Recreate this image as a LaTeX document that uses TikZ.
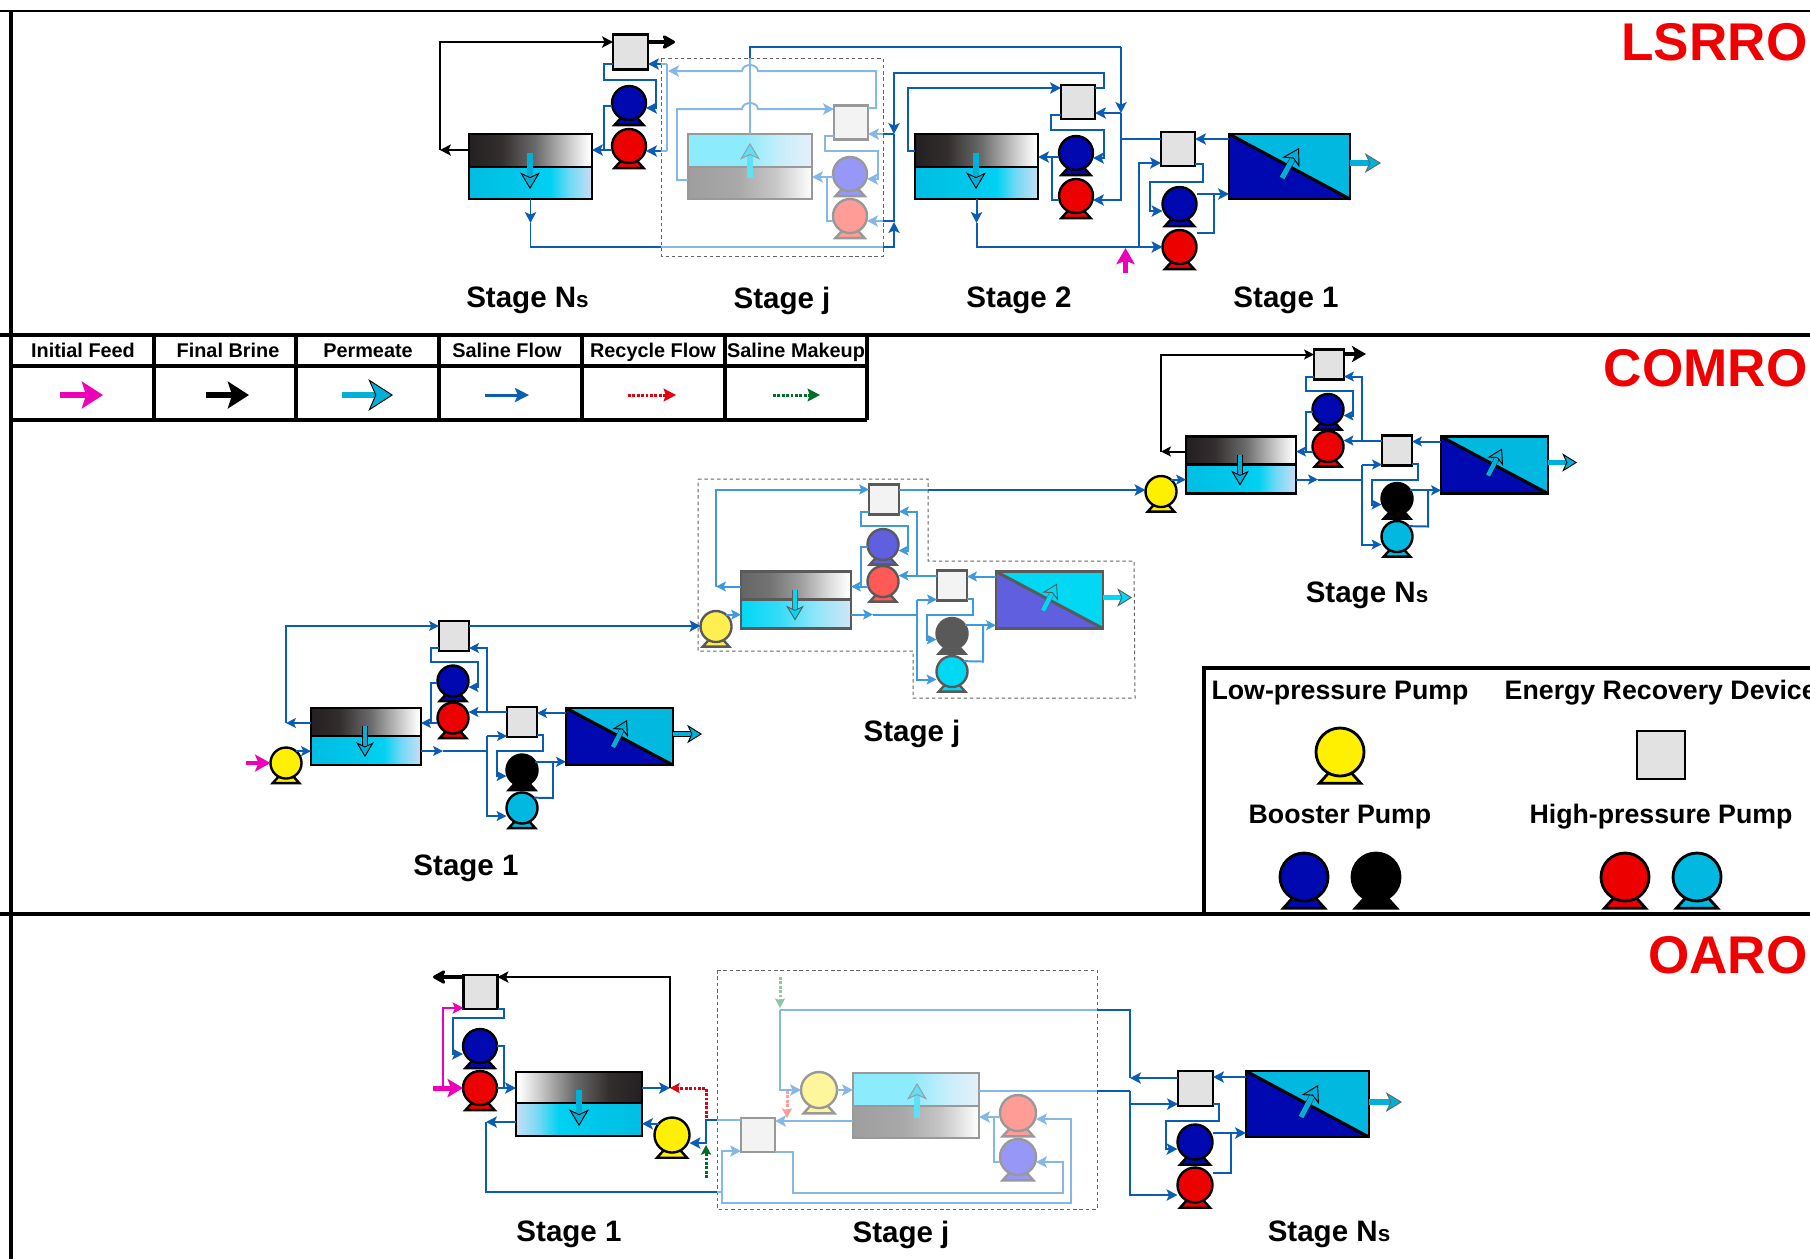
\documentclass[tikz,border=0pt]{standalone}
\usepackage{fontspec}
\setmainfont{Liberation Sans}
\usetikzlibrary{arrows.meta,calc}
% shadings: visible part of the bar lies between 25bp and 75bp
\pgfdeclarehorizontalshading{shTopK}{100bp}{rgb(0bp)=(.14,.12,.125); rgb(25bp)=(.14,.12,.125); rgb(38bp)=(.2,.18,.18); rgb(52bp)=(.42,.42,.42); rgb(66bp)=(.8,.8,.8); rgb(74bp)=(1,1,1); rgb(100bp)=(1,1,1)}
\pgfdeclarehorizontalshading{shTopKr}{100bp}{rgb(0bp)=(1,1,1); rgb(26bp)=(1,1,1); rgb(34bp)=(.8,.8,.8); rgb(48bp)=(.42,.42,.42); rgb(62bp)=(.2,.18,.18); rgb(75bp)=(.14,.12,.125); rgb(100bp)=(.14,.12,.125)}
\pgfdeclarehorizontalshading{shBotC}{100bp}{rgb(0bp)=(0,.74,.89); rgb(25bp)=(0,.74,.89); rgb(45bp)=(0,.78,.92); rgb(58bp)=(0,.82,.95); rgb(66bp)=(.45,.85,.96); rgb(75bp)=(.78,.87,.96); rgb(100bp)=(.78,.87,.96)}
\pgfdeclarehorizontalshading{shBotCr}{100bp}{rgb(0bp)=(.78,.87,.96); rgb(25bp)=(.78,.87,.96); rgb(34bp)=(.45,.85,.96); rgb(42bp)=(0,.82,.95); rgb(55bp)=(0,.78,.92); rgb(75bp)=(0,.74,.89); rgb(100bp)=(0,.74,.89)}
\pgfdeclarehorizontalshading{shTopM}{100bp}{rgb(0bp)=(.4,.4,.4); rgb(25bp)=(.4,.4,.4); rgb(38bp)=(.45,.45,.45); rgb(52bp)=(.62,.62,.62); rgb(66bp)=(.88,.88,.88); rgb(74bp)=(1,1,1); rgb(100bp)=(1,1,1)}
\pgfdeclarehorizontalshading{shBotL}{100bp}{rgb(0bp)=(0,.85,.96); rgb(25bp)=(0,.85,.96); rgb(42bp)=(.2,.86,.97); rgb(58bp)=(.55,.9,.98); rgb(75bp)=(.82,.9,.97); rgb(100bp)=(.82,.9,.97)}
\pgfdeclarehorizontalshading{shTopF}{100bp}{rgb(0bp)=(.55,.92,.99); rgb(25bp)=(.55,.92,.99); rgb(48bp)=(.55,.92,.99); rgb(62bp)=(.78,.93,.98); rgb(75bp)=(.9,.94,.98); rgb(100bp)=(.9,.94,.98)}
\pgfdeclarehorizontalshading{shBotF}{100bp}{rgb(0bp)=(.62,.62,.62); rgb(25bp)=(.62,.62,.62); rgb(45bp)=(.66,.66,.66); rgb(60bp)=(.78,.78,.78); rgb(75bp)=(1,1,1); rgb(100bp)=(1,1,1)}
\definecolor{cDark}{HTML}{0B5CB5}
\definecolor{cFade}{HTML}{85B8E6}
\definecolor{cMid}{HTML}{3E9ADC}
\definecolor{cMag}{HTML}{EE00B8}
\definecolor{cTitle}{HTML}{F00000}
\definecolor{cBlue}{HTML}{0008B0}
\definecolor{cRed}{HTML}{EC0000}
\definecolor{cCyan}{HTML}{00B8E0}
\definecolor{cYel}{HTML}{FFF000}
\definecolor{cGrayF}{HTML}{E2E2E2}
\definecolor{cBlueF}{HTML}{9797F8}
\definecolor{cRedF}{HTML}{FF9C96}
\definecolor{cYelF}{HTML}{FFF59A}
\definecolor{cEdgeF}{HTML}{999999}
\definecolor{cFillF}{HTML}{F3F3F3}
\definecolor{cPerm}{HTML}{00B0D8}
\definecolor{cPermF}{HTML}{60E0F4}
\definecolor{cDotR}{HTML}{E00010}
\definecolor{cDotG}{HTML}{006E28}
\definecolor{cDotRF}{HTML}{FF9C9C}
\definecolor{cDotGF}{HTML}{8CC8A8}
\tikzset{
 unitline/.style={line width=.68pt},
 flow/.style={line width=.56pt,line join=miter},
 flowt/.style={line width=.78pt,line join=miter},
 arw/.style={-{Stealth[length=3.1pt,width=3.2pt,inset=.7pt]}},
 arws/.style={-{Stealth[length=2.8pt,width=2.8pt,inset=.6pt]}},
 stagelab/.style={font=\bfseries\fontsize{8.4}{10}\selectfont,inner sep=0pt},
 headlab/.style={font=\bfseries\fontsize{5.65}{7}\selectfont,inner sep=0pt,text height=4.3pt,text depth=1.2pt},
 panellab/.style={font=\bfseries\fontsize{7.6}{9}\selectfont,inner sep=0pt},
 titlelab/.style={font=\bfseries\fontsize{15.1}{18}\selectfont,text=cTitle,inner sep=0pt},
 rule/.style={line width=.9pt,black},
 region/.style={line width=.28pt,black!60,dash pattern=on 1pt off .8pt},
 dotr/.style={line width=.85pt,cDotR,dash pattern=on .8pt off .45pt},
 dotg/.style={line width=.85pt,cDotG,dash pattern=on .8pt off .45pt},
 tipb/.style={-{Stealth[length=4.3pt,width=4.8pt,inset=1.1pt,round]}},
}
\newcommand\Pump[6]{% name x y r fill stroke
 \draw[unitline,draw=#6,fill=#5,line join=miter] ({#2-.5*#4},{#3+.9*#4}) -- ({#2+.5*#4},{#3+.9*#4}) -- ({#2+.86*#4},{#3+1.3*#4}) -- ({#2-.86*#4},{#3+1.3*#4}) -- cycle;
 \node[circle,unitline,draw=#6,fill=#5,inner sep=0pt,outer sep=0pt,minimum size=#4*.02cm] (#1) at (#2,#3) {};
}
\newcommand\ERD[6]{% name cx cy size fill stroke
 \node[rectangle,unitline,draw=#6,fill=#5,inner sep=0pt,outer sep=0pt,minimum size=#4*.01cm] (#1) at (#2,#3) {};
}
\newcommand\RO[9]{% name x1 y1 ym x2 y2 shTop shBot stroke
 \shade[shading=#7] (#2,#3) rectangle (#5,#4);
 \shade[shading=#8] (#2,#4) rectangle (#5,#6);
 \draw[unitline,draw=#9] (#2,#4) -- (#5,#4);
 \node[rectangle,unitline,draw=#9,inner sep=0pt,outer sep=0pt,minimum width={(#5-#2)*.01cm},minimum height={(#6-#3)*.01cm}] (#1) at ({(#2+#5)/2},{(#3+#6)/2}) {};
}
\newcommand\Memb[8]{% name x1 y1 x2 y2 dark light stroke
 \fill[#7] (#2,#3) rectangle (#4,#5);
 \fill[#6] (#2,#3) -- (#4,#5) -- (#2,#5) -- cycle;
 \draw[line width=.85pt,draw=#8] (#2,#3) -- (#4,#5);
 \node[rectangle,unitline,draw=#8,inner sep=0pt,outer sep=0pt,minimum width={(#4-#2)*.01cm},minimum height={(#5-#3)*.01cm}] (#1) at ({(#2+#4)/2},{(#3+#5)/2}) {};
}
\newcommand\HA[7]{% from to w L W fill stroke (pt)
 \draw[line width={#3+.22pt},draw=#7,shorten >=.6*#4] #1 -- #2;
 \draw[line width=#3,draw=#6,-{Stealth[length=#4,width=#5,inset=.28*#4,fill=#6,color=#7,line width=.26pt]}] #1 -- #2;
}
\newcommand\ComroStage[1]{%
 \ERD{#1EA}{454}{636}{30}{cU}{cE}
 \ERD{#1EB}{522}{722}{30}{cU}{cE}
 \Pump{#1B}{453}{681}{15.5}{cB}{cE}
 \Pump{#1H}{453}{718}{15.5}{cH}{cE}
 \Pump{#1K}{522}{770}{15.5}{cK}{cE}
 \Pump{#1C}{522}{808}{15.5}{cC}{cE}
 \Pump{#1L}{286}{763}{15.5}{cY}{cE}
 \RO{#1RO}{311}{708}{736}{421}{765}{\cST}{\cSB}{cE}
 \Memb{#1M}{566}{708}{673}{765}{cB}{cC}{cE}
 \HA{(365,726)}{(365,757)}{1.3pt}{4.2pt}{5pt}{cP}{cE}
 \HA{(613,747)}{(627,720)}{1.3pt}{4.2pt}{5pt}{cP}{cE}
 \HA{(673,734)}{(702,734)}{1.4pt}{4.2pt}{5.2pt}{cP}{cE}
 % brine loop
 \draw[flow,draw=cR,arws] (#1RO.west |- 0,723) -- (286,723);
 \draw[flow,draw=cR,arws] (286,723) -- (286,626) -- (#1EA.west |- 0,626);
 % ERD A to booster
 \draw[flow,draw=cF,arws] (#1EA.west |- 0,648) -- (431,648) -- (431,662) -- (478,662) -- (478,687) -- (#1B.east |- 0,687);
 % booster and HP to RO
 \draw[flow,draw=cF] (#1B.west |- 0,683) -- (431,683) -- (431,723);
 \draw[flow,draw=cF,arws] (#1H.west |- 0,723) -- (#1RO.east |- 0,723);
 % ERD B to HP and ERD A
 \draw[flow,draw=cF,arws] (#1EB.west |- 0,712) -- (#1H.east |- 0,712);
 \draw[flow,draw=cF,arws] (487,712) -- (487,648) -- (#1EA.east |- 0,648);
 % permeate side
 \draw[flow,draw=cF,arws] (#1RO.east |- 0,751) -- (443,751);
 \draw[flow,draw=cF] (443,751) -- (487,751);
 \draw[flow,draw=cF,arws] (487,736) -- (#1EB.west |- 0,736);
 \draw[flow,draw=cF,arws] (487,736) -- (487,816) -- (#1C.west |- 0,816);
 \draw[flow,draw=cF,arws] (#1EB.east |- 0,735) -- (543,735) -- (543,751) -- (497,751) -- (497,776) -- (#1K.west |- 0,776);
 \draw[flow,draw=cF,arws] (#1K.32) -- (#1M.west |- #1K.32);
 \draw[flow,draw=cF] (#1C.42) -- (553,798) -- (553,762);
 \draw[flow,draw=cF,arws] (#1M.west |- 0,713) -- (#1EB.east |- 0,713);
 \draw[flow,draw=cF,arws] (#1L.50) -- (#1RO.west |- #1L.50);
}
\begin{document}
\begin{tikzpicture}[x=.01cm,y=-.01cm]
\useasboundingbox (0,0) rectangle (1810,1259);
% frame
\draw[line width=.6pt] (0,11) -- (1810,11);
\draw[rule] (11,11) -- (11,1259);
\draw[line width=1pt] (0,335) -- (1810,335);
\draw[line width=1pt] (0,914) -- (1810,914);
\node[titlelab,anchor=east] (tA) at (1808,42) {LSRRO};
\node[titlelab,anchor=east] (tB) at (1808,368) {COMRO};
\node[titlelab,anchor=east] (tC) at (1808,955) {OARO};
% ===== flow table =====
\draw[rule] (11,366) -- (867,366);
\draw[rule] (11,420) -- (867,420);
\foreach \xx in {154,296,439,582,725,867} {\draw[rule] (\xx,335) -- (\xx,420);}
\node[headlab] (h1) at (83,352) {Initial Feed};
\node[headlab] (h2) at (228,352) {Final Brine};
\node[headlab] (h3) at (368,352) {Permeate};
\node[headlab] (h4) at (507,352) {Saline Flow};
\node[headlab] (h5) at (653,352) {Recycle Flow};
\node[headlab] (h6) at (796,352) {Saline Makeup};
\foreach \nn/\xa/\xb in {1/60/103,2/206/249,3/342/393,4/485/529,5/628/676,6/773/820} {
 \coordinate (sa\nn) at (\xa,395); \coordinate (sb\nn) at (\xb,395);}
\draw[line width=1.9pt,cMag,-{Stealth[length=6pt,width=7.6pt,inset=1.2pt]}] (sa1) -- (sb1);
\draw[line width=1.9pt,black,-{Stealth[length=6pt,width=7.6pt,inset=1.2pt]}] (sa2) -- (sb2);
\HA{(sa3)}{(sb3)}{1.7pt}{7pt}{9pt}{cPerm}{black}
\draw[line width=.85pt,cDark,-{Stealth[length=4pt,width=4pt,inset=.8pt]}] (sa4) -- (sb4);
\draw[dotr,-{Stealth[length=3.6pt,width=3.8pt,inset=.7pt,line width=0pt]}] (sa5) -- (sb5);
\draw[dotg,-{Stealth[length=3.6pt,width=3.8pt,inset=.7pt,line width=0pt]}] (sa6) -- (sb6);
% ===== equipment panel =====
\draw[rule] (1204,914) -- (1204,668) -- (1810,668);
\node[panellab] (p1) at (1340,693) {Low-pressure Pump};
\node[panellab,anchor=west] (p2) at (1504,693) {Energy Recovery Device};
\node[panellab] (p3) at (1340,817) {Booster Pump};
\node[panellab] (p4) at (1661,817) {High-pressure Pump};
\tikzset{unitline/.style={line width=.8pt}}
\Pump{lgY}{1340}{752}{24}{cYel}{black}
\ERD{lgE}{1661}{755}{48}{cGrayF}{black}
\Pump{lgB}{1304}{877}{24}{cBlue}{black}
\Pump{lgK}{1376}{877}{24}{black}{black}
\Pump{lgR}{1625}{877}{24}{cRed}{black}
\Pump{lgC}{1697}{877}{24}{cCyan}{black}
\tikzset{unitline/.style={line width=.68pt}}
% ===== LSRRO =====
\node[stagelab] (s1) at (527.5,300.5) {Stage N{\fontsize{6.4}{8}\selectfont s}};
\node[stagelab] (s2) at (782,300.5) {Stage j};
\node[stagelab] (s3) at (1019,300.5) {Stage 2};
\node[stagelab] (s4) at (1286,300.5) {Stage 1};
\draw[region] (661,58) rectangle (883,256);
% stage Ns
\ERD{lnE}{630.5}{52}{35}{cGrayF}{black}
\Pump{lnB}{629}{103}{17}{cBlue}{black}
\Pump{lnH}{629}{146}{17}{cRed}{black}
\RO{lnR}{469}{134}{167}{592}{199}{shTopK}{shBotC}{black}
\HA{(530,153)}{(530,189)}{1.5pt}{4.7pt}{5.6pt}{cPerm}{black}
\draw[flow,black,arw] (lnR.west |- 0,150) -- (440,150);
\draw[flow,black,arw] (440,150) -- (440,42) -- (lnE.west |- 0,42);
\draw[line width=1.15pt,black,tipb] (lnE.east |- 0,42) -- (675,42);
\draw[flow,cDark,arw] (lnE.west |- 0,64) -- (604,64) -- (604,80) -- (656,80) -- (656,108) -- (lnB.east |- 0,108);
\draw[flow,cDark] (lnB.west |- 0,106) -- (604,106) -- (604,150);
\draw[flow,cDark,arw] (lnH.west |- 0,150) -- (lnR.east |- 0,150);
\draw[flow,cDark,arw] (661,64) -- (lnE.east |- 0,64);
\draw[flow,cDark,arw] (661,151) -- (lnH.east |- 0,151);
\draw[flow,cDark,arw] (lnR.south) -- (530.5,223);
\draw[flow,cDark] (530.5,223) -- (530.5,247) -- (661,247);
% stage j (faded)
\ERD{ljE}{851}{122.5}{34}{cFillF}{cEdgeF}
\Pump{ljB}{850}{174}{17}{cBlueF}{cEdgeF}
\Pump{ljH}{850}{216}{17}{cRedF}{cEdgeF}
\RO{ljR}{688}{134}{167}{812}{199}{shTopF}{shBotF}{cEdgeF}
\HA{(750,178)}{(750,143)}{1.5pt}{4.7pt}{5.6pt}{cPermF}{cEdgeF}
\draw[flow,cFade] (667,64) -- (667,151);
\draw[flow,cFade] (667,64) -- (661,64);
\draw[flow,cFade] (667,151) -- (661,151);
\draw[flow,cFade] (661,247) -- (883,247);
\draw[flow,cFade] (ljR.north) -- (750,58);
\draw[flow,cFade,arw] (ljR.west |- 0,180) -- (677,180) -- (677,109) -- (742,109) .. controls (743,101) and (757,101) .. (758,109) -- (ljE.west |- 0,109);
\draw[flow,cFade,arw] (ljE.east |- 0,108) -- (876,108) -- (876,71) -- (758,71) .. controls (757,63) and (743,63) .. (742,71) -- (668,71);
\draw[flow,cFade,arw] (ljE.west |- 0,136) -- (825,136) -- (825,151) -- (878,151) -- (878,179) -- (ljB.east |- 0,179);
\draw[flow,cFade,arw] (ljB.west |- 0,177) -- (ljR.east |- 0,177);
\draw[flow,cFade] (827,177) -- (827,221) -- (ljH.west |- 0,221);
\draw[flow,cFade,arw] (883,134) -- (ljE.east |- 0,134);
\draw[flow,cFade,arw] (883,221) -- (ljH.east |- 0,221);
% stage 2
\ERD{l2E}{1078}{102}{34}{cGrayF}{black}
\Pump{l2B}{1076}{153}{17}{cBlue}{black}
\Pump{l2H}{1076}{196}{17}{cRed}{black}
\RO{l2R}{915}{134}{167}{1038}{199}{shTopK}{shBotC}{black}
\HA{(976,153)}{(976,189)}{1.5pt}{4.7pt}{5.6pt}{cPerm}{black}
\draw[flowt,cDark,arw] (l2R.west |- 0,151) -- (908,151) -- (908,88) -- (l2E.west |- 0,88);
\draw[flowt,cDark,arw] (l2E.east |- 0,88) -- (1104,88) -- (1104,73) -- (894,73) -- (894,134);
\draw[flowt,cDark] (894,134) -- (894,222);
\draw[flowt,cDark,arw] (883,247) -- (894,247) -- (894,222);
\draw[flow,cDark] (894,134) -- (883,134);
\draw[flow,cDark] (894,221) -- (883,221);
\draw[flowt,cDark] (750,58) -- (750,47) -- (1121,47);
\draw[flow,cDark,arw] (1121,47) -- (1121,113);
\draw[flow,cDark,arw] (1121,113) -- (1121,200) -- (l2H.east |- 0,200);
\draw[flow,cDark,arw] (1121,113) -- (l2E.east |- 0,113);
\draw[flow,cDark,arw] (l2E.west |- 0,115) -- (1051,115) -- (1051,130) -- (1104,130) -- (1104,158) -- (l2B.east |- 0,158);
\draw[flow,cDark,arw] (l2B.west |- 0,157) -- (l2R.east |- 0,157);
\draw[flow,cDark] (1052,157) -- (1052,200) -- (l2H.west |- 0,200);
\draw[flow,cDark,arw] (l2R.south) -- (976.5,223);
% stage 1
\ERD{l1E}{1178}{149}{34}{cGrayF}{black}
\Pump{l1B}{1179.5}{204}{17}{cBlue}{black}
\Pump{l1H}{1179.5}{247}{17}{cRed}{black}
\Memb{l1M}{1229}{134}{1350}{199}{cBlue}{cCyan}{black}
\HA{(1282,178)}{(1299,148)}{1.5pt}{4.7pt}{5.6pt}{cPerm}{black}
\HA{(1350,163)}{(1381,163)}{1.6pt}{4.6pt}{5.6pt}{cPerm}{black!60}
\draw[flow,cDark] (1121,139) -- (l1E.west |- 0,139);
\draw[flow,cDark,arw] (976.5,223) -- (976.5,247) -- (l1H.west |- 0,247);
\draw[flow,cDark,arw] (1139,247) -- (1139,163) -- (l1E.west |- 0,163);
\draw[flow,cDark,arw] (l1M.west |- 0,139) -- (l1E.east |- 0,139);
\draw[flow,cDark,arw] (l1E.east |- 0,164) -- (1203,164) -- (1203,182) -- (1150,182) -- (1150,211) -- (l1B.west |- 0,211);
\draw[flow,cDark,arw] (l1B.east |- 0,194) -- (l1M.west |- 0,194);
\draw[flow,cDark] (l1H.east |- 0,233) -- (1214,233) -- (1214,194);
\coordinate (lfa) at (1125.5,273); \coordinate (lfb) at (1125.5,248);
\draw[line width=1.3pt,cMag,-{Stealth[length=4.6pt,width=5.2pt,inset=1pt]}] (lfa) -- (lfb);
% ===== COMRO =====
\node[stagelab] (s5) at (466,868.5) {Stage 1};
\node[stagelab] (s6) at (912,733.5) {Stage j};
\node[stagelab] (s7) at (1367,595.5) {Stage N{\fontsize{6.4}{8}\selectfont s}};
\draw[region] (698,479) -- (928,479) -- (928,561) -- (1134,561) -- (1135,698) -- (913,698) -- (913,651) -- (698,651) -- cycle;
% stage 1
\begin{scope}
 \colorlet{cU}{cGrayF}\colorlet{cE}{black}\colorlet{cB}{cBlue}\colorlet{cH}{cRed}\colorlet{cK}{black}\colorlet{cC}{cCyan}\colorlet{cY}{cYel}\colorlet{cP}{cPerm}\colorlet{cF}{cDark}\colorlet{cR}{cDark}
 \def\cST{shTopK}\def\cSB{shBotC}
 \ComroStage{ca}
\end{scope}
% stage j
\begin{scope}[shift={(430,-136.5)}]
 \colorlet{cU}{cFillF}\definecolor{cE}{HTML}{5A5A5A}\definecolor{cB}{HTML}{5F5FE0}\definecolor{cH}{HTML}{FF5A55}\definecolor{cK}{HTML}{595959}\definecolor{cC}{HTML}{00D8F4}\definecolor{cY}{HTML}{FFF050}\definecolor{cP}{HTML}{00D8F4}\colorlet{cF}{cMid}\colorlet{cR}{cMid}
 \def\cST{shTopM}\def\cSB{shBotL}
 \ComroStage{cb}
\end{scope}
% stage Ns
\begin{scope}[shift={(875,-271.5)}]
 \colorlet{cU}{cGrayF}\colorlet{cE}{black}\colorlet{cB}{cBlue}\colorlet{cH}{cRed}\colorlet{cK}{black}\colorlet{cC}{cCyan}\colorlet{cY}{cYel}\colorlet{cP}{cPerm}\colorlet{cF}{cDark}\colorlet{cR}{black}
 \def\cST{shTopK}\def\cSB{shBotC}
 \ComroStage{cc}
\end{scope}
\draw[flow,cDark,arw] (caEA.east |- 0,626) -- (cbL.west |- 0,626);
\draw[flow,cMid] (cbEA.east |- 0,490) -- (928,490);
\draw[flowt,cDark,arw] (928,490) -- (ccL.west |- 0,490);
\draw[line width=1.05pt,black,-{Stealth[length=4pt,width=4.6pt,inset=1pt]}] (ccEA.east |- 0,354) -- (1366,354);
\coordinate (cfa) at (246,763);
\draw[line width=1.2pt,cMag,-{Stealth[length=4.4pt,width=4.8pt,inset=1pt]}] (cfa) -- (caL.west);
% ===== OARO =====
\node[stagelab] (s8) at (569,1234.5) {Stage 1};
\node[stagelab] (s9) at (901,1234.5) {Stage j};
\node[stagelab] (s10) at (1329,1234.5) {Stage N{\fontsize{6.4}{8}\selectfont s}};
\draw[region] (717,970) rectangle (1097,1209);
% stage 1
\ERD{o1E}{480.5}{992}{34}{cGrayF}{black}
\Pump{o1B}{480}{1046}{17}{cBlue}{black}
\Pump{o1H}{480}{1088}{17}{cRed}{black}
\Pump{o1L}{672}{1135}{17.5}{cYel}{black}
\RO{o1R}{516}{1072}{1103}{642}{1136}{shTopKr}{shBotCr}{black}
\HA{(579,1090)}{(579,1126)}{1.5pt}{4.7pt}{5.6pt}{cPerm}{black}
\coordinate (oJ) at (670,1088);
\draw[line width=1.15pt,black,tipb] (o1E.west |- 0,977) -- (433,977);
\draw[flow,black,arw] (oJ) -- (670,977) -- (o1E.east |- 0,977);
\draw[flow,cDark,arw] (o1R.east |- oJ) -- (oJ);
\draw[dotr,-{Stealth[length=2.8pt,width=3pt,inset=.6pt,line width=0pt]}] (706,1118) -- (706,1088) -- (oJ);
\coordinate (ogr) at (706,1178);
\draw[dotg,-{Stealth[length=2.8pt,width=3pt,inset=.6pt,line width=0pt]}] (ogr) -- (706,1145);
\draw[flowt,cDark,arw] (717,1120) -- (706,1120) -- (706,1143) -- (o1L.east |- 0,1143);
\draw[flow,cDark,arw] (o1L.140) -- (o1R.east |- o1L.140);
\draw[flow,cDark,arw] (o1R.west |- 0,1122) -- (486,1122);
\draw[flow,cDark] (486,1122) -- (486,1192) -- (717,1192);
\coordinate (omg) at (433,1088);
\draw[line width=1.4pt,cMag,-{Stealth[length=4.4pt,width=5.2pt,inset=1pt]}] (omg) -- (o1H.west);
\draw[flow,cMag,arw] (443,1088) -- (443,1008) -- (o1E.west |- 0,1008);
\draw[flow,cDark,arw] (o1E.east |- 0,1009) -- (504,1009) -- (504,1018) -- (453,1018) -- (453,1054) -- (o1B.west |- 0,1054);
\draw[flow,cDark] (o1B.east) -- (504,1046) -- (504,1088);
\draw[flow,cDark,arw] (o1H.east) -- (o1R.west |- o1H.east);
% stage j
\ERD{ojE}{758}{1135}{34}{cFillF}{cEdgeF}
\Pump{ojL}{819}{1090}{18}{cYelF}{cEdgeF}
\Pump{ojH}{1018}{1113}{18}{cRedF}{cEdgeF}
\Pump{ojB}{1018}{1157}{18}{cBlueF}{cEdgeF}
\RO{ojR}{853}{1073}{1106}{979}{1138}{shTopF}{shBotF}{cEdgeF}
\HA{(917,1118)}{(917,1083)}{1.5pt}{4.7pt}{5.6pt}{cPermF}{cEdgeF}
\draw[flow,cFade] (717,1120) -- (ojE.west |- 0,1120);
\draw[flow,cFade,arw] (ojR.west |- 0,1121) -- (ojE.east |- 0,1121);
\draw[flow,cFade] (1097,1010) -- (780,1010);
\draw[flow,cFade,arw] (780,1010) -- (780,1090) -- (ojL.west);
\draw[flow,cFade,arw] (ojL.east) -- (ojR.west |- ojL.east);
\draw[flow,cFade] (ojR.east |- 0,1091) -- (1097,1091);
\draw[flow,cFade,arw] (717,1192) -- (722,1192) -- (722,1151) -- (ojE.west |- 0,1151);
\draw[flow,cFade,arw] (722,1192) -- (722,1203) -- (1071,1203) -- (1071,1119) -- (ojH.east |- 0,1119);
\draw[flow,cFade,arw] (ojE.east |- 0,1152) -- (793,1152) -- (793,1193) -- (1063,1193) -- (1063,1162) -- (ojB.east |- 0,1162);
\draw[flow,cFade,arw] (ojH.west |- 0,1117) -- (ojR.east |- 0,1117);
\draw[flow,cFade] (ojB.west |- 0,1162) -- (994,1162) -- (994,1117);
\coordinate (ogf) at (780,977); \coordinate (ogg) at (780,1008);
\draw[line width=.85pt,cDotGF,dash pattern=on .8pt off .45pt,-{Stealth[length=2.8pt,width=3pt,inset=.6pt,line width=0pt]}] (ogf) -- (ogg);
\coordinate (orf) at (787,1091); \coordinate (org) at (787,1118);
\draw[line width=.85pt,cDotRF,dash pattern=on .8pt off .45pt,-{Stealth[length=2.8pt,width=3pt,inset=.6pt,line width=0pt]}] (orf) -- (org);
% stage Ns
\ERD{onE}{1195.5}{1088.5}{35}{cGrayF}{black}
\Pump{onB}{1195}{1142}{17.5}{cBlue}{black}
\Pump{onH}{1195}{1185}{17.5}{cRed}{black}
\Memb{onM}{1246}{1071}{1369}{1137}{cBlue}{cCyan}{black}
\HA{(1301,1117)}{(1318,1085)}{1.5pt}{4.7pt}{5.6pt}{cPerm}{black}
\HA{(1369,1102)}{(1402,1102)}{1.6pt}{4.6pt}{5.6pt}{cPerm}{black!60}
\draw[flowt,cDark] (1097,1010) -- (1130,1010) -- (1130,1078);
\draw[flow,cDark,arw] (onE.west |- 0,1078) -- (1130,1078);
\draw[flowt,cDark] (1097,1091) -- (1130,1091);
\draw[flow,cDark,arw] (1130,1091) -- (1130,1195) -- (onH.west |- 0,1195);
\draw[flow,cDark,arw] (1130,1104) -- (onE.west |- 0,1104);
\draw[flow,cDark,arw] (onM.west |- 0,1077) -- (onE.east |- 0,1077);
\draw[flow,cDark,arw] (onE.east |- 0,1104) -- (1219,1104) -- (1219,1121) -- (1166,1121) -- (1166,1149) -- (onB.west |- 0,1149);
\draw[flow,cDark,arw] (onB.east |- 0,1133) -- (onM.west |- 0,1133);
\draw[flow,cDark] (onH.east |- 0,1173) -- (1231,1173) -- (1231,1133);
\end{tikzpicture}
\end{document}
